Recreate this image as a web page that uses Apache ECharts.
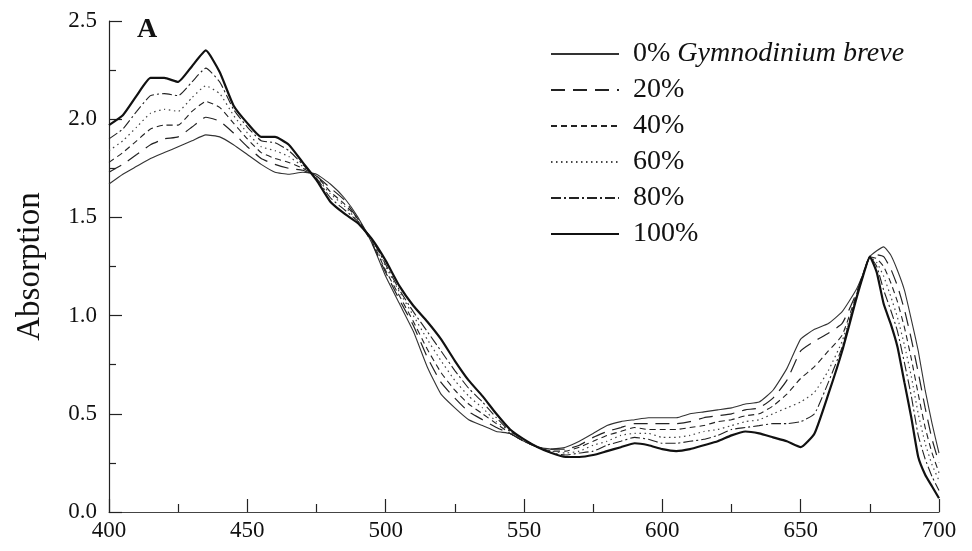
<!DOCTYPE html>
<html>
<head>
<meta charset="utf-8">
<script src="https://cdn.jsdelivr.net/npm/echarts@6/dist/echarts.min.js"></script>
<style>
html,body{margin:0;padding:0;background:#fff;}
#chart{width:972px;height:551px;}
</style>
</head>
<body>
<div id="chart"></div>
<script>
// Wavelengths (nm)
const wavelengths = [400,405,410,415,420,425,430,435,440,445,450,455,460,465,470,475,480,485,490,495,
  500,505,510,515,520,525,530,535,540,545,550,555,560,565,570,575,580,585,590,595,
  600,605,610,615,620,625,630,635,640,645,650,655,660,665,670,672.5,675,677.5,680,682.5,
  685,687.5,690,692.5,695,697.5,700];

const seriesNames = ['0%','20%','40%','60%','80%','100%'];
const speciesName = 'Gymnodinium breve';

const abs0 = [1.67,1.72,1.76,1.80,1.83,1.86,1.89,1.92,1.91,1.87,1.82,1.77,1.73,1.72,1.73,1.72,1.67,1.60,1.50,1.37,
  1.20,1.06,0.92,0.74,0.60,0.53,0.47,0.44,0.41,0.40,0.36,0.33,0.32,0.33,0.36,0.40,0.44,0.46,0.47,0.48,
  0.48,0.48,0.50,0.51,0.52,0.53,0.55,0.56,0.62,0.73,0.88,0.93,0.96,1.02,1.13,1.21,1.30,1.33,1.35,1.31,
  1.23,1.13,0.98,0.82,0.62,0.45,0.30];
const abs20 = [1.73,1.77,1.82,1.87,1.90,1.91,1.96,2.01,1.99,1.93,1.86,1.80,1.77,1.75,1.74,1.71,1.65,1.59,1.49,1.37,
  1.22,1.08,0.95,0.79,0.66,0.58,0.51,0.47,0.43,0.40,0.36,0.33,0.32,0.32,0.34,0.38,0.41,0.43,0.45,0.45,
  0.45,0.45,0.46,0.48,0.49,0.50,0.52,0.53,0.58,0.67,0.82,0.87,0.91,0.96,1.11,1.21,1.30,1.31,1.30,1.24,
  1.15,1.03,0.88,0.71,0.53,0.37,0.25];
const abs40 = [1.78,1.83,1.89,1.95,1.97,1.97,2.04,2.09,2.06,1.98,1.90,1.83,1.80,1.78,1.75,1.71,1.63,1.57,1.49,1.38,
  1.23,1.10,0.97,0.83,0.71,0.62,0.55,0.50,0.45,0.40,0.36,0.33,0.31,0.31,0.33,0.36,0.39,0.41,0.43,0.42,
  0.42,0.42,0.43,0.44,0.46,0.47,0.49,0.50,0.54,0.60,0.68,0.74,0.82,0.90,1.10,1.21,1.30,1.29,1.25,1.17,
  1.07,0.94,0.78,0.60,0.43,0.30,0.20];
const abs60 = [1.84,1.89,1.96,2.03,2.05,2.04,2.11,2.17,2.13,2.02,1.93,1.86,1.84,1.81,1.76,1.70,1.62,1.56,1.48,1.38,
  1.25,1.12,1.00,0.88,0.77,0.67,0.59,0.53,0.46,0.41,0.37,0.33,0.31,0.30,0.31,0.34,0.36,0.39,0.40,0.40,
  0.38,0.38,0.39,0.41,0.42,0.44,0.46,0.47,0.50,0.53,0.56,0.61,0.72,0.87,1.09,1.20,1.30,1.27,1.20,1.10,
  0.99,0.85,0.69,0.50,0.35,0.24,0.16];
const abs80 = [1.90,1.95,2.04,2.12,2.13,2.12,2.19,2.26,2.19,2.05,1.96,1.89,1.88,1.84,1.77,1.70,1.60,1.54,1.48,1.39,
  1.26,1.13,1.02,0.92,0.82,0.72,0.63,0.56,0.48,0.41,0.37,0.33,0.30,0.29,0.30,0.31,0.34,0.36,0.38,0.37,
  0.35,0.35,0.36,0.37,0.39,0.42,0.43,0.44,0.45,0.45,0.46,0.50,0.66,0.84,1.09,1.20,1.30,1.25,1.13,1.03,
  0.92,0.76,0.59,0.39,0.27,0.18,0.11];
const abs100 = [1.97,2.02,2.12,2.21,2.21,2.19,2.27,2.35,2.24,2.07,1.98,1.91,1.91,1.87,1.78,1.69,1.58,1.52,1.47,1.39,
  1.28,1.15,1.05,0.97,0.88,0.77,0.67,0.59,0.50,0.42,0.37,0.33,0.30,0.28,0.28,0.29,0.31,0.33,0.35,0.34,
  0.32,0.31,0.32,0.34,0.36,0.39,0.41,0.40,0.38,0.36,0.33,0.40,0.60,0.82,1.08,1.20,1.30,1.22,1.06,0.96,
  0.84,0.66,0.48,0.28,0.19,0.13,0.07];

const xTicks = {min:400, max:700, interval:50};
const yTicks = {min:0, max:2.5, interval:0.5};

const allValues = [abs0, abs20, abs40, abs60, abs80, abs100];
const styles = [
  {width:1.1, type:'solid', color:'#333'},
  {width:1.2, type:[14,8], color:'#222'},
  {width:1.1, type:[6,4], color:'#222'},
  {width:1.2, type:[1.5,3.5], color:'#444'},
  {width:1.1, type:[10,3,2,3], color:'#222'},
  {width:2.2, type:'solid', color:'#111'}
];

const series = allValues.map((vals, i) => ({
  name: seriesNames[i],
  type: 'line',
  symbol: 'none',
  showSymbol: false,
  smooth: 0.15,
  data: wavelengths.map((w, j) => [w, vals[j]]),
  lineStyle: styles[i],
  itemStyle: {color: styles[i].color},
  z: i === 5 ? 10 : 5
}));

const serif = '"Liberation Serif", "DejaVu Serif", serif';

const chart = echarts.init(document.getElementById('chart'), null, {renderer:'canvas'});
chart.setOption({
  animation: false,
  backgroundColor: '#fff',
  grid: {left:109, right:33, top:21, bottom:39, containLabel:false},
  xAxis: {
    type: 'value', min: xTicks.min, max: xTicks.max, interval: xTicks.interval,
    axisLine: {show:true, lineStyle:{color:'#444', width:1.2}},
    axisTick: {show:true, inside:true, length:13, lineStyle:{color:'#222', width:1.2}},
    minorTick: {show:true, splitNumber:2, length:8, lineStyle:{color:'#222', width:1.2}},
    splitLine: {show:false},
    axisLabel: {fontFamily: serif, fontSize:23, color:'#111', margin:7}
  },
  yAxis: {
    type: 'value', min: yTicks.min, max: yTicks.max, interval: yTicks.interval,
    name: 'Absorption', nameLocation: 'middle', nameGap: 62, nameRotate: 90,
    nameTextStyle: {fontFamily: serif, fontSize:33, color:'#111'},
    axisLine: {show:true, lineStyle:{color:'#222', width:1.2}},
    axisTick: {show:true, inside:true, length:13, lineStyle:{color:'#222', width:1.2}},
    minorTick: {show:true, splitNumber:2, length:7, lineStyle:{color:'#222', width:1.2}},
    splitLine: {show:false},
    axisLabel: {fontFamily: serif, fontSize:23, color:'#111', margin:12,
      formatter: v => v.toFixed(1)}
  },
  legend: {
    orient: 'vertical', left: 545, top: 35,
    itemWidth: 68, itemHeight: 14, itemGap: 8,
    data: seriesNames,
    itemStyle: {opacity: 0, borderWidth: 0},
    textStyle: {fontFamily: serif, fontSize: 28, color:'#111', lineHeight: 28,
      padding: [0, 0, 0, 9],
      rich: {
        p: {fontFamily: serif, fontSize: 28, color:'#111'},
        s: {fontFamily: serif, fontSize: 28, fontStyle:'italic', color:'#111'}
      }},
    formatter: name => name === seriesNames[0] ? '{p|' + name + ' }{s|' + speciesName + '}' : '{p|' + name + '}'
  },
  graphic: [{
    type: 'text', left: 137, top: 16,
    style: {text: 'A', font: 'bold 28px ' + serif, fill: '#111'}
  }],
  series: series
});
</script>
</body>
</html>
